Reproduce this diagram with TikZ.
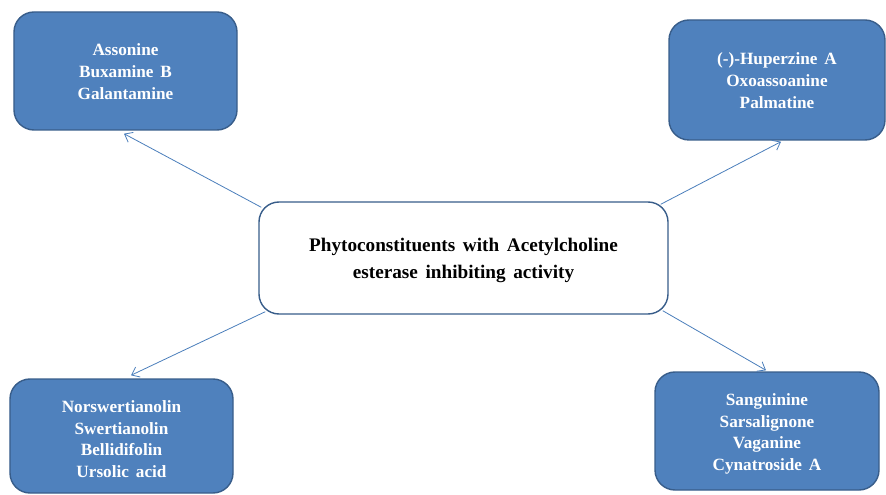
\documentclass[tikz,border=0pt]{standalone}
\usepackage{fontspec}
\setmainfont{Liberation Serif}[WordSpace={1.6,1,1}]
\usetikzlibrary{arrows.meta}
\definecolor{boxfill}{HTML}{4F81BD}
\definecolor{boxline}{HTML}{385D8A}
\definecolor{arrcol}{HTML}{4A7EBB}
\newcommand{\topS}[1]{\rule{0pt}{#1bp}}
\newcommand{\botS}{\rule[-5bp]{0pt}{5bp}}
\tikzset{
  bluebox/.style={draw=boxline, fill=boxfill, line width=1.4bp, rounded corners=20bp,
    text=white, align=center, inner sep=0pt,
    font=\fontsize{17.2bp}{21.7bp}\selectfont\bfseries},
  centerbox/.style={draw=boxline, fill=white, line width=1.4bp, rounded corners=20bp,
    text=black, align=center, inner sep=0pt,
    font=\fontsize{19.2bp}{27.4bp}\selectfont\bfseries},
  conn/.style={draw=arrcol, line width=0.8bp, -{Straight Barb[length=7bp,width=11bp]}},
}
\begin{document}
\begin{tikzpicture}[x=1bp,y=-1bp]
\useasboundingbox (0,0) rectangle (886,495);
\clip (0,0) rectangle (886,495);
\node[centerbox, minimum width=409bp, minimum height=112bp] (c) at (463.5,258)
  {\topS{19}Phytoconstituents with Acetylcholine\\esterase inhibiting activity\botS};
\node[bluebox, minimum width=223bp, minimum height=118bp] (tl) at (125.5,71)
  {\topS{18.4}Assonine\\Buxamine B\\Galantamine\botS};
\node[bluebox, minimum width=216bp, minimum height=120bp] (tr) at (777,80)
  {\topS{18.4}(-)-Huperzine A\\Oxoassoanine\\Palmatine\botS};
\node[bluebox, minimum width=223bp, minimum height=114bp] (bl) at (121.5,436)
  {\topS{23}Norswertianolin\\Swertianolin\\Bellidifolin\\Ursolic acid\botS};
\node[bluebox, minimum width=224bp, minimum height=118bp] (br) at (767,431)
  {\topS{19.1}Sanguinine\\Sarsalignone\\Vaganine\\Cynatroside A\botS};
\draw[conn] ([xshift=3bp,yshift=-6bp]c.north west) -- ([xshift=-1.5bp,yshift=-3bp]tl.south);
\draw[conn] ([xshift=-8bp,yshift=-3bp]c.north east) -- ([xshift=4bp,yshift=-1bp]tr.south);
\draw[conn] ([xshift=7bp,yshift=3bp]c.south west) -- ([xshift=9.5bp,yshift=3bp]bl.north);
\draw[conn] ([xshift=-6bp,yshift=4bp]c.south east) -- ([xshift=-1bp,yshift=1bp]br.north);
\end{tikzpicture}
\end{document}
